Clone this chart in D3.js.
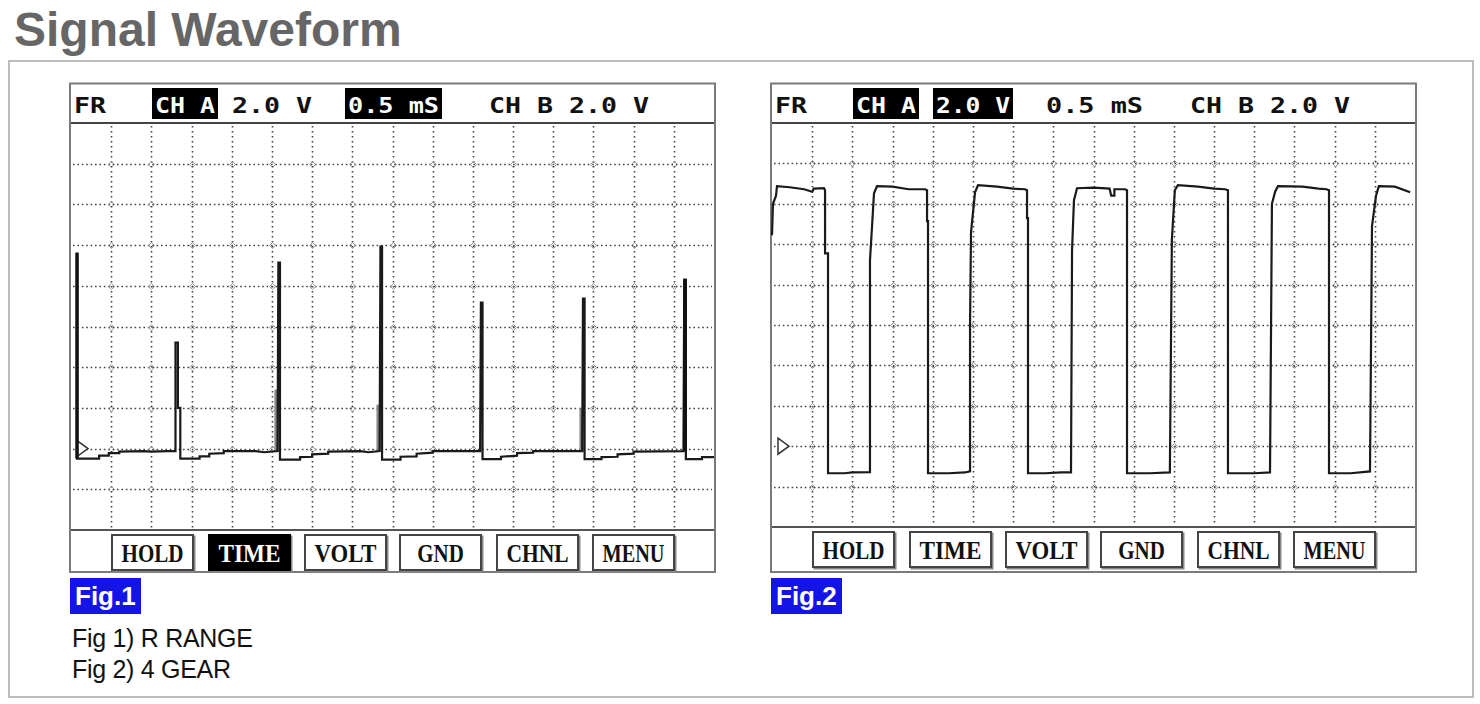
<!DOCTYPE html>
<html><head><meta charset="utf-8">
<script src="https://cdn.jsdelivr.net/npm/d3@7"></script>
<style>
html,body{margin:0;padding:0;background:#fff;}
svg{display:block;}
</style></head>
<body>
<svg id="chart" width="1480" height="704"></svg>
<script>
// ---------- DATA ----------
const title = "Signal Waveform";
const timeTicks = [0,0.5,1,1.5,2,2.5,3,3.5,4,4.5,5,5.5,6,6.5,7,7.5,8];   // ms
const voltTicks = [-4,-2,0,2,4,6,8,10,12,14,16];                         // V
const headerLabels = ["FR","CH A","2.0 V","0.5 mS","CH B 2.0 V"];
const fig1Highlight = ["CH A","0.5 mS"];
const fig2Highlight = ["CH A","2.0 V"];
const buttonLabels = ["HOLD","TIME","VOLT","GND","CHNL","MENU"];
const fig1ActiveButton = ["TIME"];
const figLabels = ["Fig.1","Fig.2"];
const captions = ["Fig 1) R RANGE","Fig 2) 4 GEAR"];

// Fig 1 (R RANGE) trace: [time ms, volts]
const wave1 = [
 [0.075,9.63],[0.075,-0.49],[0.35,-0.49],[0.35,-0.35],[0.47,-0.35],[0.47,-0.22],[0.6,-0.22],[0.6,-0.15],[0.9,-0.12],[1.0,-0.15],[1.2,-0.12],[1.30,-0.12],
 [1.30,5.21],[1.33,5.21],[1.33,2.0],[1.36,2.0],[1.36,-0.49],[1.6,-0.49],[1.6,-0.38],[1.72,-0.38],[1.72,-0.25],[1.9,-0.22],[1.9,-0.12],[2.3,-0.12],[2.4,-0.18],[2.57,-0.12],
 [2.58,9.14],[2.6,9.14],[2.6,-0.54],[2.85,-0.54],[2.85,-0.42],[3.0,-0.4],[3.0,-0.28],[3.2,-0.25],[3.2,-0.15],[3.6,-0.12],[3.7,-0.18],[3.84,-0.12],
 [3.85,9.93],[3.87,9.93],[3.87,-0.54],[4.1,-0.54],[4.1,-0.4],[4.3,-0.38],[4.3,-0.25],[4.5,-0.2],[4.5,-0.12],[5.09,-0.12],
 [5.1,7.17],[5.12,7.17],[5.12,-0.52],[5.35,-0.52],[5.35,-0.4],[5.55,-0.35],[5.55,-0.22],[5.75,-0.2],[5.75,-0.12],[6.36,-0.12],
 [6.37,7.37],[6.39,7.37],[6.39,-0.52],[6.6,-0.52],[6.6,-0.42],[6.8,-0.4],[6.8,-0.28],[7.0,-0.25],[7.0,-0.15],[7.62,-0.12],
 [7.63,8.3],[7.65,8.3],[7.65,-0.52],[7.85,-0.52],[7.85,-0.42],[8.0,-0.42]
];
// heavy (thick) vertical segments of trace 1: [time, v0, v1]
const heavy1 = [[0.075,-0.49,9.63],[7.64,-0.12,8.3]];
// grey smeared segments of trace 1: [time, v0, v1]
const grey1 = [[2.555,-0.15,2.9],[3.825,-0.15,2.16],[6.35,-0.15,2.0]];

// Fig 2 (4 GEAR) trace: [time ms, volts]
const wave2 = [
 [0,10.44],[0.012,12.0],[0.05,12.4],[0.062,12.87],[0.22,12.82],[0.4,12.72],[0.5,12.6],[0.52,12.75],[0.647,12.77],[0.66,12.67],[0.66,9.55],[0.697,9.55],[0.697,-1.34],[0.9,-1.34],[1.0,-1.3],[1.219,-1.29],
 [1.219,9.2],[1.244,10.84],[1.269,12.52],[1.306,12.87],[1.5,12.85],[1.7,12.72],[1.904,12.72],[1.929,12.67],[1.929,11.14],[1.941,11.14],[1.941,-1.34],[2.2,-1.34],[2.4,-1.3],[2.464,-1.25],
 [2.464,6.09],[2.476,10.59],[2.526,12.57],[2.563,12.92],[2.8,12.85],[3.0,12.75],[3.148,12.72],[3.173,12.67],[3.173,11.29],[3.185,11.29],[3.185,-1.34],[3.4,-1.34],[3.6,-1.3],[3.72,-1.3],
 [3.733,9.7],[3.757,12.18],[3.795,12.77],[4.0,12.8],[4.2,12.75],[4.22,12.4],[4.26,12.4],[4.26,12.72],[4.392,12.72],[4.417,12.67],[4.417,-1.34],[4.7,-1.34],[4.95,-1.3],
 [4.975,10.2],[5.012,12.67],[5.05,12.92],[5.3,12.85],[5.5,12.75],[5.636,12.72],[5.673,12.67],[5.673,-1.34],[6.0,-1.34],[6.196,-1.3],
 [6.22,12.0],[6.26,12.6],[6.295,12.87],[6.6,12.85],[6.8,12.75],[6.9,12.72],[6.93,12.67],[6.93,-1.34],[7.2,-1.34],[7.44,-1.25],
 [7.465,10.9],[7.515,12.4],[7.55,12.87],[7.75,12.85],[7.94,12.57]
];

// ---------- DRAW ----------
const svg = d3.select("#chart");

svg.append("text").attr("x",14).attr("y",46)
  .attr("font-family","'Liberation Sans',Arial,sans-serif").attr("font-weight","bold")
  .attr("font-size",48).attr("fill","#666").text(title);

svg.append("rect").attr("x",9).attr("y",61).attr("width",1464).attr("height",636)
  .attr("fill","none").attr("stroke","#bdbdbd").attr("stroke-width",2);

const mono = "'DejaVu Sans Mono','Liberation Mono',monospace";
const serif = "'Liberation Serif','DejaVu Serif',serif";

function drawScope(cfg){
  const g = svg.append("g");
  const L = cfg.left, R = cfg.left + 643, T = 123, B = cfg.bottom;
  const x = d3.scaleLinear().domain([timeTicks[0], timeTicks[timeTicks.length-1]]).range([L, R]);
  const y = d3.scaleLinear().domain([voltTicks[0], voltTicks[voltTicks.length-1]]).range([B, T]);

  // screen frame
  g.append("rect").attr("x",L-1).attr("y",83.5).attr("width",R-L+2).attr("height",572-83.5)
    .attr("fill","#fff").attr("stroke","#7a7a7a").attr("stroke-width",2);

  // grid
  const inner = timeTicks.slice(1,-1), innerV = voltTicks.slice(1,-1);
  g.append("g").selectAll("line").data(inner).join("line")
    .attr("x1",d=>Math.round(x(d))+0.5).attr("x2",d=>Math.round(x(d))+0.5).attr("y1",T+3).attr("y2",B-2)
    .attr("stroke","#444").attr("stroke-width",1.6).attr("stroke-dasharray","1.6,3.4");
  g.append("g").selectAll("line").data(innerV).join("line")
    .attr("y1",d=>Math.round(y(d))+0.5).attr("y2",d=>Math.round(y(d))+0.5).attr("x1",L+2).attr("x2",R-2)
    .attr("stroke","#444").attr("stroke-width",1.6).attr("stroke-dasharray","1.6,2.8");
  // intersection marks
  const pts = [];
  inner.forEach(t=>innerV.forEach(v=>pts.push([t,v])));
  g.append("g").selectAll("path").data(pts).join("path")
    .attr("d",d=>{const cx=Math.round(x(d[0]))+0.5, cy=Math.round(y(d[1]))+0.5;
      return `M${cx-3},${cy}L${cx},${cy-3}L${cx+3},${cy}L${cx},${cy+3}Z`;})
    .attr("fill","none").attr("stroke","#999").attr("stroke-width",1);

  // header and footer separators
  g.append("line").attr("x1",L).attr("x2",R).attr("y1",T).attr("y2",T).attr("stroke","#444").attr("stroke-width",2.2);
  g.append("line").attr("x1",L).attr("x2",R).attr("y1",B).attr("y2",B).attr("stroke","#555").attr("stroke-width",2);

  // header labels
  const hx = [3,81,161,274,418], hw = [32,66,80,97,160];
  headerLabels.forEach((lab,i)=>{
    const on = cfg.highlight.includes(lab);
    if(on) g.append("rect").attr("x",L+hx[i]).attr("y",88).attr("width",hw[i]).attr("height",31).attr("fill","#000");
    const pad = on ? 3 : 0;
    g.append("text").attr("x",L+hx[i]+pad).attr("y",113)
      .attr("font-family",mono).attr("font-weight","bold").attr("font-size",22)
      .attr("fill",on?"#fff":"#111")
      .attr("textLength",hw[i]-2*pad).attr("lengthAdjust","spacingAndGlyphs").text(lab);
  });

  // buttons
  const bx = [41,138,234,329,426,522];
  buttonLabels.forEach((lab,i)=>{
    const on = cfg.active.includes(lab);
    const x0 = L+bx[i], y0 = B+5;
    g.append("rect").attr("x",x0+1.5).attr("y",y0+1.5).attr("width",81).attr("height",35)
      .attr("fill","none").attr("stroke","#888").attr("stroke-width",2);
    g.append("rect").attr("x",x0).attr("y",y0).attr("width",81).attr("height",35)
      .attr("fill",on?"#000":"#fff").attr("stroke",on?"#000":"#444").attr("stroke-width",2);
    const tl = lab.length*15.5;
    g.append("text").attr("x",x0+40.5-tl/2).attr("y",y0+27)
      .attr("font-family",serif).attr("font-weight","bold").attr("font-size",25)
      .attr("fill",on?"#fff":"#111").attr("textLength",tl).attr("lengthAdjust","spacingAndGlyphs").text(lab);
  });

  // ground marker
  const gy = y(0);
  g.append("path").attr("d",`M${L+6},${gy-8}L${L+17},${gy}L${L+6},${gy+8}Z`)
    .attr("fill","#fff").attr("stroke","#333").attr("stroke-width",1.5);

  // grey smears
  if(cfg.grey) g.append("g").selectAll("line").data(cfg.grey).join("line")
    .attr("x1",d=>x(d[0])).attr("x2",d=>x(d[0])).attr("y1",d=>y(d[1])).attr("y2",d=>y(d[2]))
    .attr("stroke","#8a8a8a").attr("stroke-width",4);

  // trace
  const line = d3.line().x(d=>x(d[0])).y(d=>y(d[1]));
  g.append("path").datum(cfg.wave).attr("d",line)
    .attr("fill","none").attr("stroke","#1a1a1a").attr("stroke-width",2.2).attr("stroke-linejoin","miter");
  if(cfg.heavy) g.append("g").selectAll("line").data(cfg.heavy).join("line")
    .attr("x1",d=>x(d[0])).attr("x2",d=>x(d[0])).attr("y1",d=>y(d[1])).attr("y2",d=>y(d[2]))
    .attr("stroke","#111").attr("stroke-width",3.5);

  // fig label
  g.append("rect").attr("x",L-1).attr("y",578).attr("width",71).attr("height",36).attr("fill","#1414e6");
  g.append("text").attr("x",L+4).attr("y",605).attr("font-family","'Liberation Sans',Arial,sans-serif")
    .attr("font-weight","bold").attr("font-size",26).attr("fill","#fff").text(cfg.label);
}

drawScope({left:71, bottom:530, highlight:fig1Highlight, active:fig1ActiveButton, wave:wave1, heavy:heavy1, grey:grey1, label:figLabels[0]});
drawScope({left:772, bottom:527, highlight:fig2Highlight, active:[], wave:wave2, label:figLabels[1]});

captions.forEach((c,i)=>{
  svg.append("text").attr("x",72).attr("y",647+i*31)
    .attr("font-family","'Liberation Sans',Arial,sans-serif").attr("font-size",25)
    .attr("letter-spacing",-0.3).attr("fill","#111").text(c);
});
</script>
</body></html>
